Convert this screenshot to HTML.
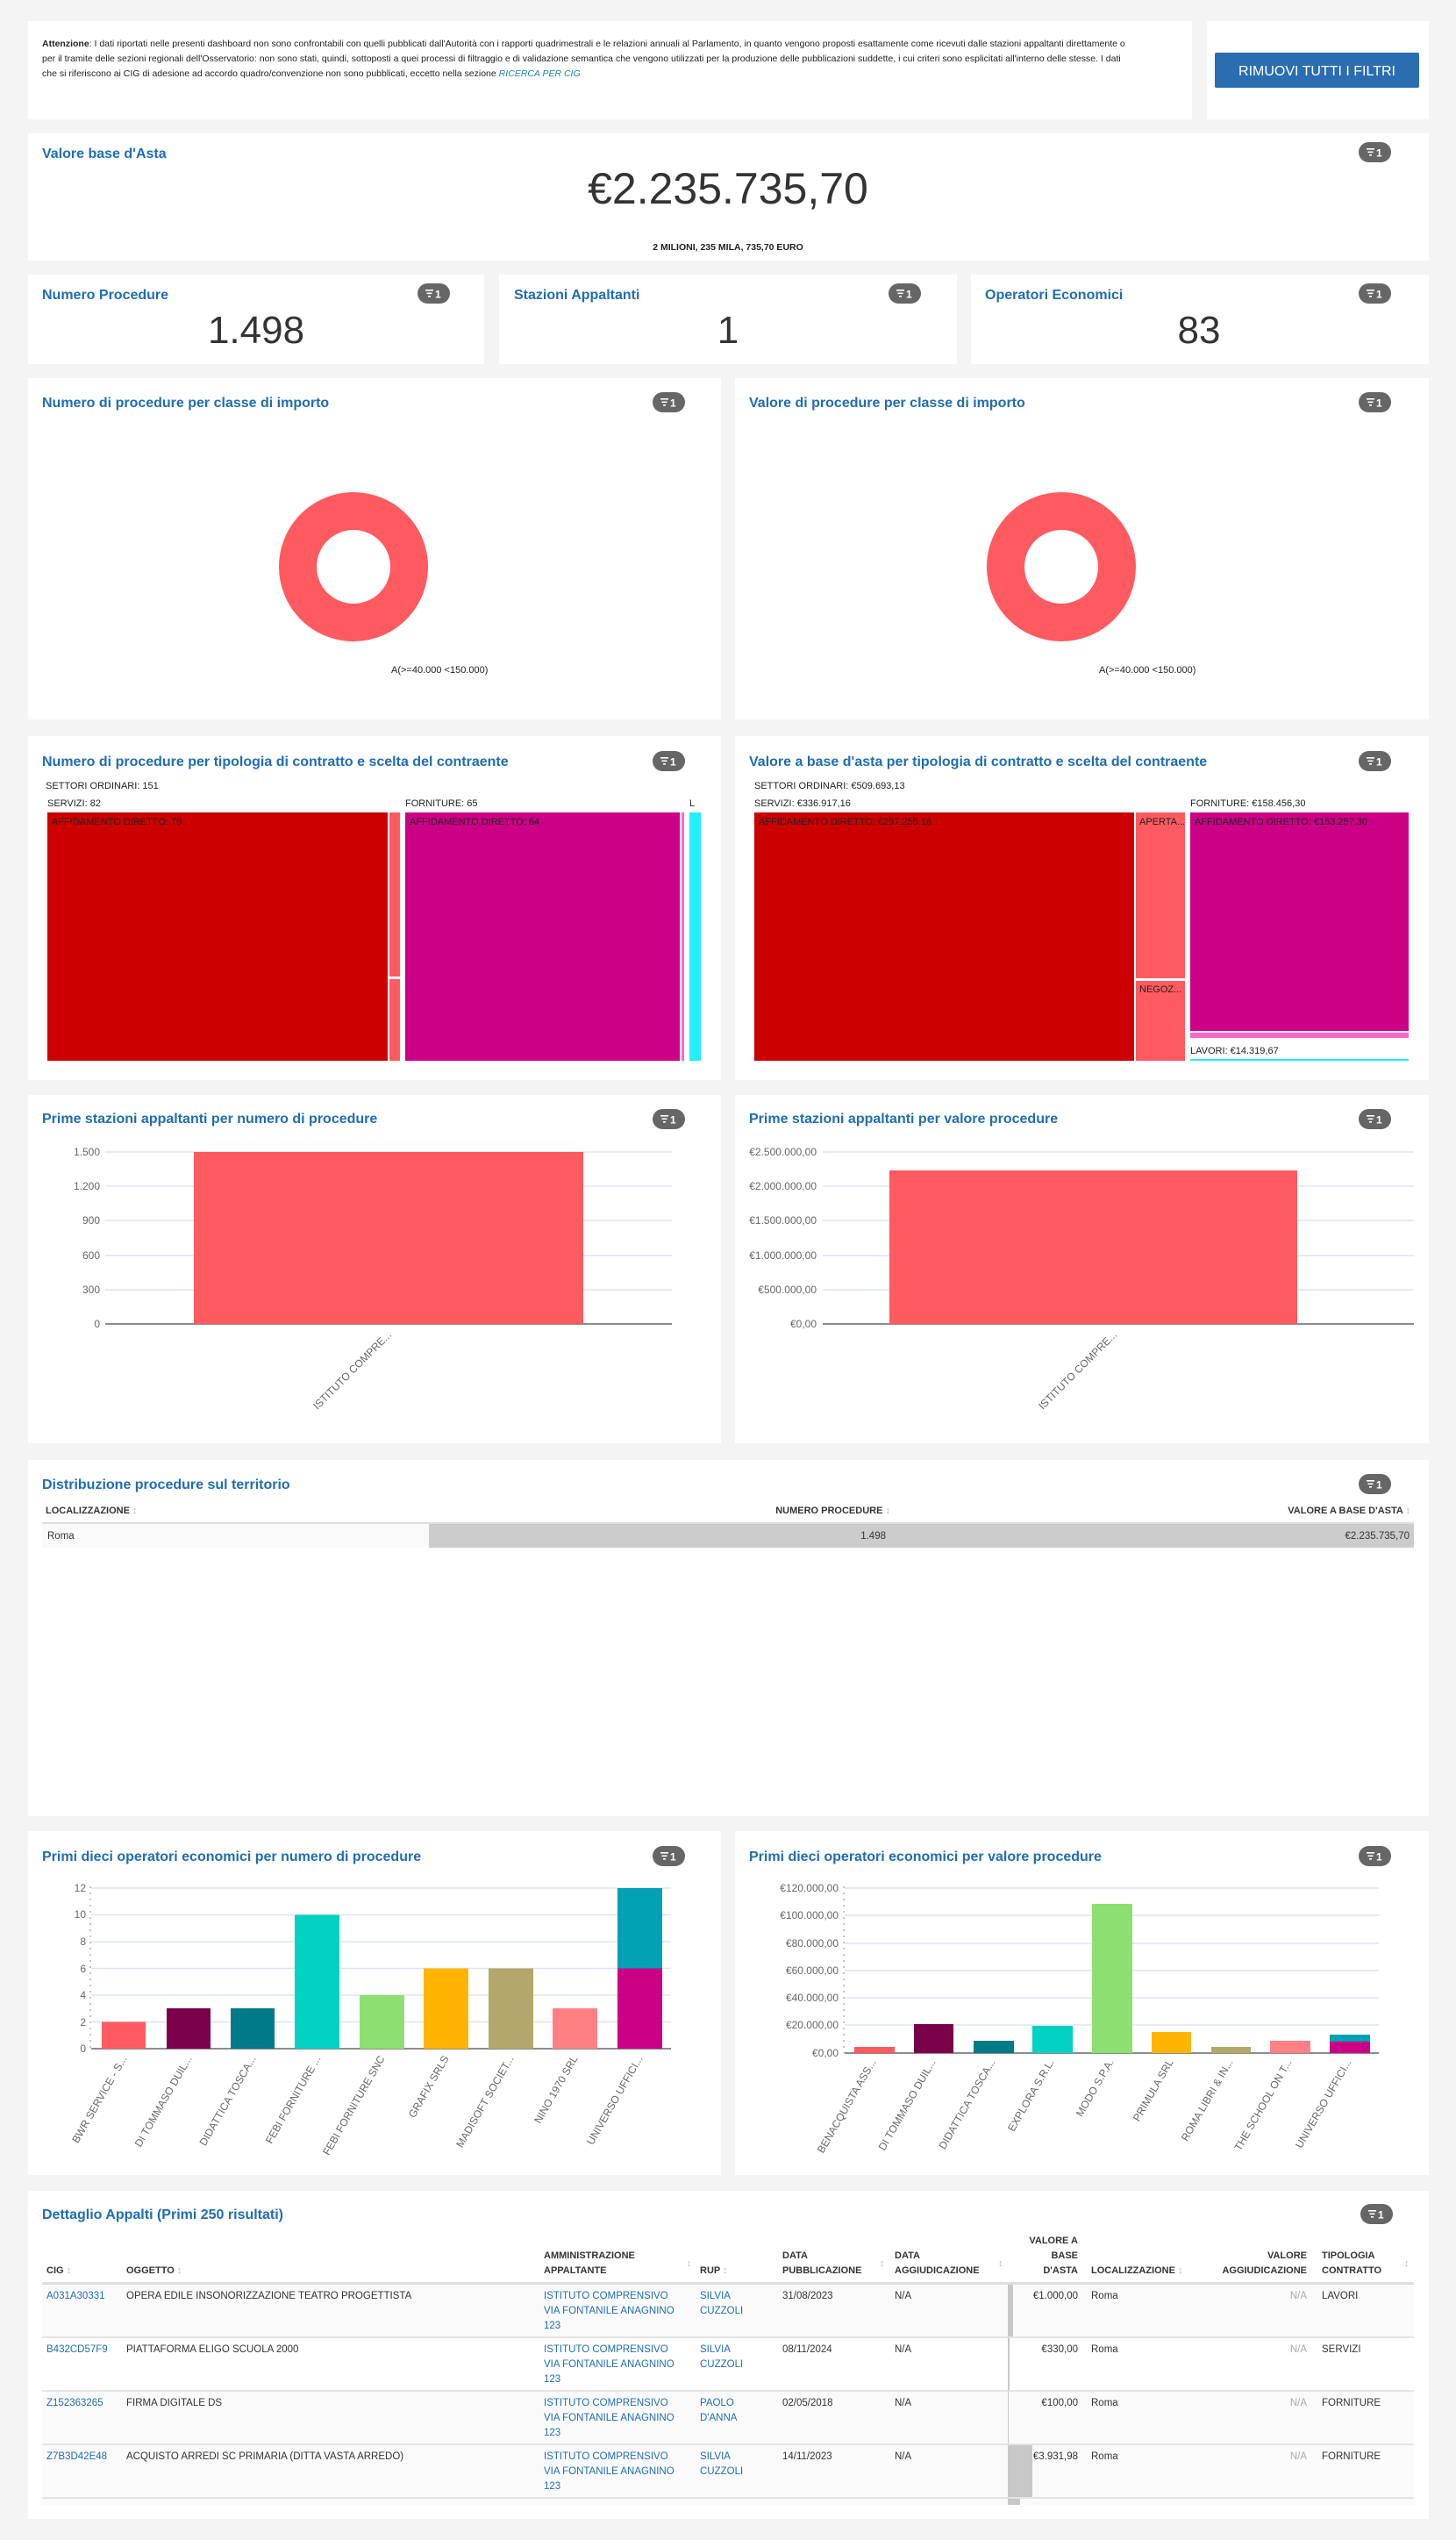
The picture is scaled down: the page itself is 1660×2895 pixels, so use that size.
<!DOCTYPE html>
<html><head><meta charset="utf-8"><style>
html,body{margin:0;padding:0;background:#f4f4f4;}
svg{display:block;font-family:"Liberation Sans",sans-serif;}
.t{fill:#1f6db5;font-size:16px;font-weight:bold;}
.ax{fill:#666;font-size:12px;}
.tm{fill:#222;font-size:11px;}
.h{fill:#333;font-size:11px;font-weight:bold;}
.c{fill:#333;font-size:11.5px;}
.l{fill:#1f6db5;font-size:11.5px;}
.g{stroke:#dde3f0;stroke-width:1.5;}
</style></head><body>
<svg width="1660" height="2895" viewBox="0 0 1660 2895" xmlns="http://www.w3.org/2000/svg">
<defs>
<g id="badge"><rect x="0" y="0" width="37" height="23" rx="11.5" fill="#666"/><rect x="9" y="7" width="9" height="1.6" fill="#fff"/><rect x="10.5" y="10.5" width="6" height="1.6" fill="#fff"/><rect x="12" y="14" width="3" height="1.6" fill="#fff"/><text x="20" y="16.5" fill="#fff" font-size="12" font-weight="bold">1</text></g>
</defs>
<rect width="1660" height="2895" fill="#f4f4f4"/>

<!-- top panels -->
<rect x="32" y="24" width="1327" height="112" fill="#fff"/>
<rect x="1376" y="24" width="253" height="112" fill="#fff"/>
<text font-size="10.5" fill="#222"><tspan x="48" y="53"><tspan font-weight="bold">Attenzione</tspan>: I dati riportati nelle presenti dashboard non sono confrontabili con quelli pubblicati dall'Autorità con i rapporti quadrimestrali e le relazioni annuali al Parlamento, in quanto vengono proposti esattamente come ricevuti dalle stazioni appaltanti direttamente o</tspan><tspan x="48" y="70">per il tramite delle sezioni regionali dell'Osservatorio: non sono stati, quindi, sottoposti a quei processi di filtraggio e di validazione semantica che vengono utilizzati per la produzione delle pubblicazioni suddette, i cui criteri sono esplicitati all'interno delle stesse. I dati</tspan><tspan x="48" y="87">che si riferiscono ai CIG di adesione ad accordo quadro/convenzione non sono pubblicati, eccetto nella sezione <tspan fill="#1a8aa8" font-style="italic">RICERCA PER CIG</tspan></tspan></text>
<rect x="1385" y="60" width="233" height="40" rx="2" fill="#2a6db0"/>
<text x="1501.5" y="86" text-anchor="middle" fill="#fff" font-size="16">RIMUOVI TUTTI I FILTRI</text>

<!-- valore base -->
<rect x="32" y="152" width="1597" height="145" fill="#fff"/>
<text x="48" y="180" class="t">Valore base d'Asta</text>
<use href="#badge" x="1549" y="162"/>
<text x="830" y="232" text-anchor="middle" font-size="50" fill="#333">€2.235.735,70</text>
<text x="830" y="285" text-anchor="middle" font-size="10.5" font-weight="bold" fill="#222">2 MILIONI, 235 MILA, 735,70 EURO</text>

<!-- KPIs -->
<rect x="32" y="313" width="520" height="102" fill="#fff"/>
<rect x="569" y="313" width="522" height="102" fill="#fff"/>
<rect x="1107" y="313" width="522" height="102" fill="#fff"/>
<text x="48" y="341" class="t">Numero Procedure</text>
<text x="586" y="341" class="t">Stazioni Appaltanti</text>
<text x="1123" y="341" class="t">Operatori Economici</text>
<use href="#badge" x="476" y="323"/><use href="#badge" x="1013" y="323"/><use href="#badge" x="1549" y="323"/>
<text x="292" y="391" text-anchor="middle" font-size="44" fill="#333">1.498</text>
<text x="830" y="391" text-anchor="middle" font-size="44" fill="#333">1</text>
<text x="1367" y="391" text-anchor="middle" font-size="44" fill="#333">83</text>

<!-- donuts -->
<rect x="32" y="431" width="790" height="389" fill="#fff"/>
<rect x="838" y="431" width="791" height="389" fill="#fff"/>
<text x="48" y="464" class="t">Numero di procedure per classe di importo</text>
<text x="854" y="464" class="t">Valore di procedure per classe di importo</text>
<use href="#badge" x="744" y="447"/><use href="#badge" x="1549" y="447"/>
<circle cx="403" cy="646" r="63.5" fill="none" stroke="#ff5a5f" stroke-width="43"/>
<circle cx="1210" cy="646" r="63.5" fill="none" stroke="#ff5a5f" stroke-width="43"/>
<text x="446" y="767" class="tm">A(&gt;=40.000 &lt;150.000)</text>
<text x="1253" y="767" class="tm">A(&gt;=40.000 &lt;150.000)</text>

<!-- treemaps -->
<rect x="32" y="839" width="790" height="392" fill="#fff"/>
<rect x="838" y="839" width="791" height="392" fill="#fff"/>
<text x="48" y="873" class="t">Numero di procedure per tipologia di contratto e scelta del contraente</text>
<text x="854" y="873" class="t">Valore a base d'asta per tipologia di contratto e scelta del contraente</text>
<use href="#badge" x="744" y="856"/><use href="#badge" x="1549" y="856"/>
<text x="52" y="899" class="tm">SETTORI ORDINARI: 151</text>
<text x="54" y="919" class="tm">SERVIZI: 82</text>
<text x="462" y="919" class="tm">FORNITURE: 65</text>
<text x="786" y="919" class="tm">L</text>
<rect x="54" y="926" width="388" height="283" fill="#cc0000"/>
<rect x="444" y="926" width="12" height="187" fill="#ff5a5f"/>
<rect x="444" y="1116" width="12" height="93" fill="#ff5a5f"/>
<rect x="462" y="926" width="313" height="283" fill="#cc0086"/>
<rect x="777" y="926" width="3" height="283" fill="#ff66cc"/>
<rect x="786" y="926" width="13" height="283" fill="#22eeff"/>
<text x="59" y="940" class="tm">AFFIDAMENTO DIRETTO: 79</text>
<text x="467" y="940" class="tm">AFFIDAMENTO DIRETTO: 64</text>

<text x="860" y="899" class="tm">SETTORI ORDINARI: €509.693,13</text>
<text x="860" y="919" class="tm">SERVIZI: €336.917,16</text>
<text x="1357" y="919" class="tm">FORNITURE: €158.456,30</text>
<rect x="860" y="926" width="433" height="283" fill="#cc0000"/>
<rect x="1295" y="926" width="56" height="189" fill="#ff5a5f"/>
<rect x="1295" y="1118" width="56" height="91" fill="#ff5a5f"/>
<rect x="1357" y="926" width="249" height="249" fill="#cc0086"/>
<rect x="1357" y="1177" width="249" height="6" fill="#ff66cc"/>
<rect x="1357" y="1207" width="249" height="2" fill="#22eeff"/>
<text x="865" y="940" class="tm">AFFIDAMENTO DIRETTO: €297.255,16</text>
<text x="1299" y="940" class="tm">APERTA...</text>
<text x="1299" y="1131" class="tm">NEGOZ...</text>
<text x="1362" y="940" class="tm">AFFIDAMENTO DIRETTO: €153.257,30</text>
<text x="1357" y="1201" class="tm">LAVORI: €14.319,67</text>

<!-- prime stazioni -->
<rect x="32" y="1248" width="790" height="397" fill="#fff"/>
<rect x="838" y="1248" width="791" height="397" fill="#fff"/>
<text x="48" y="1280" class="t">Prime stazioni appaltanti per numero di procedure</text>
<text x="854" y="1280" class="t">Prime stazioni appaltanti per valore procedure</text>
<use href="#badge" x="744" y="1264"/><use href="#badge" x="1549" y="1264"/>
<g class="g">
<line x1="120" x2="766" y1="1313" y2="1313"/><line x1="120" x2="766" y1="1352" y2="1352"/><line x1="120" x2="766" y1="1391" y2="1391"/><line x1="120" x2="766" y1="1431" y2="1431"/><line x1="120" x2="766" y1="1470" y2="1470"/>
<line x1="938" x2="1612" y1="1313" y2="1313"/><line x1="938" x2="1612" y1="1352" y2="1352"/><line x1="938" x2="1612" y1="1391" y2="1391"/><line x1="938" x2="1612" y1="1431" y2="1431"/><line x1="938" x2="1612" y1="1470" y2="1470"/>
</g>
<line x1="120" x2="766" y1="1509" y2="1509" stroke="#666" stroke-width="1.5"/>
<line x1="938" x2="1612" y1="1509" y2="1509" stroke="#666" stroke-width="1.5"/>
<g class="ax" text-anchor="end">
<text x="114" y="1317">1.500</text><text x="114" y="1356">1.200</text><text x="114" y="1395">900</text><text x="114" y="1435">600</text><text x="114" y="1474">300</text><text x="114" y="1513">0</text>
<text x="931" y="1317">€2.500.000,00</text><text x="931" y="1356">€2.000.000,00</text><text x="931" y="1395">€1.500.000,00</text><text x="931" y="1435">€1.000.000,00</text><text x="931" y="1474">€500.000,00</text><text x="931" y="1513">€0,00</text>
<text transform="translate(447,1522) rotate(-45)">ISTITUTO COMPRE...</text>
<text transform="translate(1274,1522) rotate(-45)">ISTITUTO COMPRE...</text>
</g>
<rect x="221" y="1313" width="444" height="196" fill="#ff5a5f"/>
<rect x="1014" y="1334" width="465" height="175" fill="#ff5a5f"/>

<!-- distribuzione -->
<rect x="32" y="1664" width="1597" height="406" fill="#fff"/>
<text x="48" y="1697" class="t">Distribuzione procedure sul territorio</text>
<use href="#badge" x="1549" y="1680"/>
<text x="52" y="1725" class="h" font-size="10">LOCALIZZAZIONE <tspan fill="#bbb">↕</tspan></text>
<text x="1015" y="1725" class="h" font-size="10" text-anchor="end">NUMERO PROCEDURE <tspan fill="#bbb">↕</tspan></text>
<text x="1608" y="1725" class="h" font-size="10" text-anchor="end">VALORE A BASE D'ASTA <tspan fill="#bbb">↕</tspan></text>
<rect x="48" y="1735" width="1564" height="2" fill="#ddd"/>
<rect x="48" y="1737" width="1564" height="27" fill="#fafafa"/>
<rect x="489" y="1737" width="1123" height="27" fill="#cccccc"/>
<text x="54" y="1754" class="c" font-size="11">Roma</text>
<text x="1010" y="1754" class="c" font-size="11" text-anchor="end">1.498</text>
<text x="1607" y="1754" class="c" font-size="11" text-anchor="end">€2.235.735,70</text>

<!-- operatori -->
<rect x="32" y="2087" width="790" height="392" fill="#fff"/>
<rect x="838" y="2087" width="791" height="392" fill="#fff"/>
<text x="48" y="2121" class="t">Primi dieci operatori economici per numero di procedure</text>
<text x="854" y="2121" class="t">Primi dieci operatori economici per valore procedure</text>
<use href="#badge" x="744" y="2104"/><use href="#badge" x="1549" y="2104"/>
<g class="g">
<line x1="104" x2="765" y1="2152" y2="2152"/><line x1="104" x2="765" y1="2182.5" y2="2182.5"/><line x1="104" x2="765" y1="2213" y2="2213"/><line x1="104" x2="765" y1="2243.5" y2="2243.5"/><line x1="104" x2="765" y1="2274" y2="2274"/><line x1="104" x2="765" y1="2304.5" y2="2304.5"/>
<line x1="963" x2="1572" y1="2152" y2="2152"/><line x1="963" x2="1572" y1="2183" y2="2183"/><line x1="963" x2="1572" y1="2215" y2="2215"/><line x1="963" x2="1572" y1="2246" y2="2246"/><line x1="963" x2="1572" y1="2277" y2="2277"/><line x1="963" x2="1572" y1="2308" y2="2308"/>
</g>
<line x1="103" x2="103" y1="2150" y2="2335" stroke="#888" stroke-dasharray="2,5"/>
<line x1="962" x2="962" y1="2150" y2="2340" stroke="#888" stroke-dasharray="2,5"/>
<line x1="104" x2="765" y1="2335" y2="2335" stroke="#666" stroke-width="1.5"/>
<line x1="963" x2="1572" y1="2340" y2="2340" stroke="#666" stroke-width="1.5"/>
<g class="ax" text-anchor="end">
<text x="98" y="2156">12</text><text x="98" y="2186">10</text><text x="98" y="2217">8</text><text x="98" y="2248">6</text><text x="98" y="2278">4</text><text x="98" y="2309">2</text><text x="98" y="2339">0</text>
<text x="956" y="2156">€120.000,00</text><text x="956" y="2187">€100.000,00</text><text x="956" y="2219">€80.000,00</text><text x="956" y="2250">€60.000,00</text><text x="956" y="2281">€40.000,00</text><text x="956" y="2312">€20.000,00</text><text x="956" y="2344">€0,00</text>
</g>
<rect x="116" y="2304.5" width="50" height="30.5" fill="#ff5a5f"/>
<rect x="190" y="2289" width="50" height="46" fill="#7a004a"/>
<rect x="263" y="2289" width="50" height="46" fill="#007a87"/>
<rect x="336" y="2182.5" width="51" height="152.5" fill="#00d1c1"/>
<rect x="410" y="2274" width="51" height="61" fill="#8ce071"/>
<rect x="483" y="2243.5" width="51" height="91.5" fill="#ffb400"/>
<rect x="557" y="2243.5" width="51" height="91.5" fill="#b4a76c"/>
<rect x="630" y="2289" width="51" height="46" fill="#ff8083"/>
<rect x="704" y="2243.5" width="51" height="91.5" fill="#cc0086"/>
<rect x="704" y="2152" width="51" height="91.5" fill="#00a1b3"/>
<g class="ax" text-anchor="end" font-size="11.5">
<text transform="translate(145,2346) rotate(-60)">BWR SERVICE - S...</text>
<text transform="translate(219,2346) rotate(-60)">DI TOMMASO DUIL...</text>
<text transform="translate(292,2346) rotate(-60)">DIDATTICA TOSCA...</text>
<text transform="translate(366,2346) rotate(-60)">FEBI FORNITURE ...</text>
<text transform="translate(439,2346) rotate(-60)">FEBI FORNITURE SNC</text>
<text transform="translate(512,2346) rotate(-60)">GRAFIX SRLS</text>
<text transform="translate(586,2346) rotate(-60)">MADISOFT SOCIET...</text>
<text transform="translate(659,2346) rotate(-60)">NINO 1970 SRL</text>
<text transform="translate(733,2346) rotate(-60)">UNIVERSO UFFICI...</text>
</g>
<rect x="974" y="2333" width="46" height="7" fill="#ff5a5f"/>
<rect x="1042" y="2307" width="45" height="33" fill="#7a004a"/>
<rect x="1110" y="2326" width="46" height="14" fill="#007a87"/>
<rect x="1177" y="2309" width="46" height="31" fill="#00d1c1"/>
<rect x="1245" y="2170" width="46" height="170" fill="#8ce071"/>
<rect x="1313" y="2316" width="45" height="24" fill="#ffb400"/>
<rect x="1381" y="2333" width="45" height="7" fill="#b4a76c"/>
<rect x="1448" y="2326" width="46" height="14" fill="#ff8083"/>
<rect x="1516" y="2327" width="46" height="13" fill="#cc0086"/>
<rect x="1516" y="2319" width="46" height="8" fill="#00a1b3"/>
<g class="ax" text-anchor="end" font-size="11.5">
<text transform="translate(999,2350) rotate(-60)">BENACQUISTA ASS...</text>
<text transform="translate(1067,2350) rotate(-60)">DI TOMMASO DUIL...</text>
<text transform="translate(1135,2350) rotate(-60)">DIDATTICA TOSCA...</text>
<text transform="translate(1202,2350) rotate(-60)">EXPLORA S.R.L.</text>
<text transform="translate(1270,2350) rotate(-60)">MODO S.P.A.</text>
<text transform="translate(1338,2350) rotate(-60)">PRIMULA SRL</text>
<text transform="translate(1406,2350) rotate(-60)">ROMA LIBRI &amp; IN...</text>
<text transform="translate(1473,2350) rotate(-60)">THE SCHOOL ON T...</text>
<text transform="translate(1541,2350) rotate(-60)">UNIVERSO UFFICI...</text>
</g>

<!-- dettaglio -->
<rect x="32" y="2497" width="1597" height="374" fill="#fff"/>
<text x="48" y="2529" class="t">Dettaglio Appalti (Primi 250 risultati)</text>
<use href="#badge" x="1551" y="2512"/>
<g class="h" font-size="10.5">
<text x="53" y="2591">CIG <tspan fill="#bbb">↕</tspan></text>
<text x="144" y="2591">OGGETTO <tspan fill="#bbb">↕</tspan></text>
<text x="620" y="2574">AMMINISTRAZIONE</text><text x="620" y="2591">APPALTANTE</text><text x="783" y="2583" fill="#bbb">↕</text>
<text x="798" y="2591">RUP <tspan fill="#bbb">↕</tspan></text>
<text x="892" y="2574">DATA</text><text x="892" y="2591">PUBBLICAZIONE</text><text x="1003" y="2583" fill="#bbb">↕</text>
<text x="1020" y="2574">DATA</text><text x="1020" y="2591">AGGIUDICAZIONE</text><text x="1138" y="2583" fill="#bbb">↕</text>
<text x="1229" y="2557" text-anchor="end">VALORE A</text><text x="1229" y="2574" text-anchor="end">BASE</text><text x="1229" y="2591" text-anchor="end">D'ASTA</text>
<text x="1244" y="2591">LOCALIZZAZIONE <tspan fill="#bbb">↕</tspan></text>
<text x="1490" y="2574" text-anchor="end">VALORE</text><text x="1490" y="2591" text-anchor="end">AGGIUDICAZIONE</text>
<text x="1507" y="2574">TIPOLOGIA</text><text x="1507" y="2591">CONTRATTO</text><text x="1601" y="2583" fill="#bbb">↕</text>
</g>
<rect x="48" y="2601" width="1564" height="3" fill="#ddd"/>
<rect x="48" y="2604" width="1564" height="59" fill="#fafafa"/>
<rect x="48" y="2663" width="1564" height="2" fill="#e3e3e3"/>
<rect x="48" y="2665" width="1564" height="59" fill="#fff"/>
<rect x="48" y="2724" width="1564" height="2" fill="#e3e3e3"/>
<rect x="48" y="2726" width="1564" height="59" fill="#fafafa"/>
<rect x="48" y="2785" width="1564" height="2" fill="#e3e3e3"/>
<rect x="48" y="2787" width="1564" height="59" fill="#fafafa"/>
<rect x="48" y="2846" width="1564" height="2" fill="#e3e3e3"/>
<rect x="48" y="2848" width="1564" height="7" fill="#fafafa"/>
<rect x="1149" y="2604" width="6" height="59" fill="#c8c8c8"/>
<rect x="1149" y="2665" width="2" height="59" fill="#c8c8c8"/>
<rect x="1149" y="2726" width="1" height="59" fill="#c8c8c8"/>
<rect x="1149" y="2787" width="28" height="59" fill="#c8c8c8"/>
<rect x="1149" y="2848" width="14" height="7" fill="#c8c8c8"/>
<g font-size="11.5">
<text x="53" y="2620" class="l">A031A30331</text><text x="144" y="2620" class="c">OPERA EDILE INSONORIZZAZIONE TEATRO PROGETTISTA</text>
<text x="53" y="2681" class="l">B432CD57F9</text><text x="144" y="2681" class="c">PIATTAFORMA ELIGO SCUOLA 2000</text>
<text x="53" y="2742" class="l">Z152363265</text><text x="144" y="2742" class="c">FIRMA DIGITALE DS</text>
<text x="53" y="2803" class="l">Z7B3D42E48</text><text x="144" y="2803" class="c">ACQUISTO ARREDI SC PRIMARIA (DITTA VASTA ARREDO)</text>
</g>
<g class="l" font-size="11.5">
<text x="620" y="2620">ISTITUTO COMPRENSIVO</text><text x="620" y="2637">VIA FONTANILE ANAGNINO</text><text x="620" y="2654">123</text>
<text x="620" y="2681">ISTITUTO COMPRENSIVO</text><text x="620" y="2698">VIA FONTANILE ANAGNINO</text><text x="620" y="2715">123</text>
<text x="620" y="2742">ISTITUTO COMPRENSIVO</text><text x="620" y="2759">VIA FONTANILE ANAGNINO</text><text x="620" y="2776">123</text>
<text x="620" y="2803">ISTITUTO COMPRENSIVO</text><text x="620" y="2820">VIA FONTANILE ANAGNINO</text><text x="620" y="2837">123</text>
<text x="798" y="2620">SILVIA</text><text x="798" y="2637">CUZZOLI</text>
<text x="798" y="2681">SILVIA</text><text x="798" y="2698">CUZZOLI</text>
<text x="798" y="2742">PAOLO</text><text x="798" y="2759">D'ANNA</text>
<text x="798" y="2803">SILVIA</text><text x="798" y="2820">CUZZOLI</text>
</g>
<g class="c" font-size="11.5">
<text x="892" y="2620">31/08/2023</text><text x="1020" y="2620">N/A</text><text x="1229" y="2620" text-anchor="end">€1.000,00</text><text x="1244" y="2620">Roma</text><text x="1490" y="2620" text-anchor="end" fill="#aaa">N/A</text><text x="1507" y="2620">LAVORI</text>
<text x="892" y="2681">08/11/2024</text><text x="1020" y="2681">N/A</text><text x="1229" y="2681" text-anchor="end">€330,00</text><text x="1244" y="2681">Roma</text><text x="1490" y="2681" text-anchor="end" fill="#aaa">N/A</text><text x="1507" y="2681">SERVIZI</text>
<text x="892" y="2742">02/05/2018</text><text x="1020" y="2742">N/A</text><text x="1229" y="2742" text-anchor="end">€100,00</text><text x="1244" y="2742">Roma</text><text x="1490" y="2742" text-anchor="end" fill="#aaa">N/A</text><text x="1507" y="2742">FORNITURE</text>
<text x="892" y="2803">14/11/2023</text><text x="1020" y="2803">N/A</text><text x="1229" y="2803" text-anchor="end">€3.931,98</text><text x="1244" y="2803">Roma</text><text x="1490" y="2803" text-anchor="end" fill="#aaa">N/A</text><text x="1507" y="2803">FORNITURE</text>
</g>
</svg>
</body></html>
